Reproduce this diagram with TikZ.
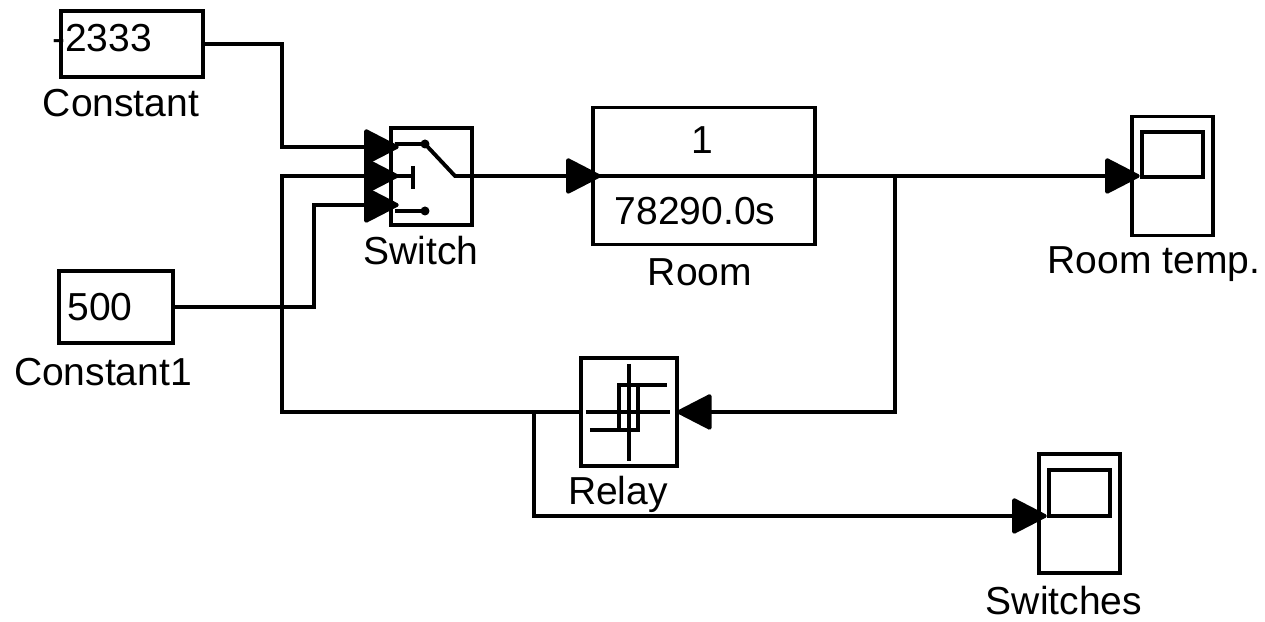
\documentclass[tikz,border=0pt]{standalone}
\usepackage{fontspec}
\setmainfont{Liberation Sans}
\usetikzlibrary{arrows.meta}
\tikzset{
  block/.style={draw,line width=1.1pt,inner sep=0pt,outer sep=0pt,minimum width=#1},
  icon/.style={line width=1.1pt},
  txt/.style={inner sep=0pt,font=\fontsize{11.1pt}{13pt}\selectfont},
  wire/.style={line width=1.1pt},
  sig/.style={wire,-{Triangle[length=10.5pt,width=10.5pt,round]},shorten >=-2.2pt}
}
\begin{document}
\begin{tikzpicture}[x=0.01cm,y=-0.01cm]
\useasboundingbox (0,0) rectangle (1265,622);

% blocks
\node[block=1.42cm,minimum height=0.66cm] (const) at (132,44) {};
\node[block=1.14cm,minimum height=0.72cm] (constb) at (116,307) {};
\node[block=0.81cm,minimum height=0.97cm] (switch) at (431.5,176.5) {};
\node[block=2.22cm,minimum height=1.37cm] (room) at (704,176) {};
\node[block=0.96cm,minimum height=1.08cm] (relay) at (629,412) {};
\node[block=0.81cm,minimum height=1.19cm] (scopea) at (1172.5,176) {};
\node[block=0.81cm,minimum height=1.19cm] (scopeb) at (1079.5,513.5) {};

% texts
\node[txt] (constval) at (102,38) {-2333};
\node[txt] (constlabel) at (121,103) {Constant};
\node[txt] (constbval) at (100,307) {500};
\node[txt] (constblabel) at (103,372) {Constant1};
\node[txt] (switchlabel) at (421,251) {Switch};
\node[txt] (roomval) at (702,140) {1};
\node[txt] (roomtime) at (695,211) {78290.0s};
\node[txt] (roomlabel) at (700,272) {Room};
\node[txt] (relaylabel) at (618,494) {Relay};
\node[txt] (scopealabel) at (1154,264) {Room temp.};
\node[txt] (scopeblabel) at (1064,601) {Switches};

% switch ports
\coordinate (swa) at (391,147);
\coordinate (swb) at (391,176);
\coordinate (swc) at (391,205);
\coordinate (swout) at (472,176);
\coordinate (scopebin) at (1039,516);

% switch icon
\draw[icon] (395,144) -- (425,144) -- (455,176) -- (swout);
\draw[icon] (swb) -- (413,176);
\draw[icon] (413,166) -- (413,189);
\draw[icon] (395,211) -- (425,211);
\fill (425,144) circle (4.5);
\fill (425,211) circle (4.5);

% relay icon
\draw[icon] (629,364) -- (629,461);
\draw[icon] (586,412) -- (670,412);
\draw[icon] (619,385) rectangle (638,430);
\draw[icon] (638,385) -- (667,385);
\draw[icon] (590,430) -- (619,430);

% scope screens
\draw[icon] (1142,132) rectangle (1203,177);
\draw[icon] (1049,470) rectangle (1110,516);

% room divider
\draw[icon] (room.west) -- (room.east);

% connectors
\draw[sig] (const.east) -- (282,44) -- (282,147) -- (swa);
\draw[sig] (constb.east) -- (314,307) -- (314,205) -- (swc);
\draw[sig] (relay.west) -- (282,412) -- (282,176) -- (swb);
\draw[sig] (swout) -- (room.west);
\draw[sig] (room.east) -- (scopea.west);
\draw[sig,shorten >=0pt] (895,176) -- (895,412) -- (relay.east);
\draw[sig] (534,412) -- (534,516) -- (scopebin);
\end{tikzpicture}
\end{document}
